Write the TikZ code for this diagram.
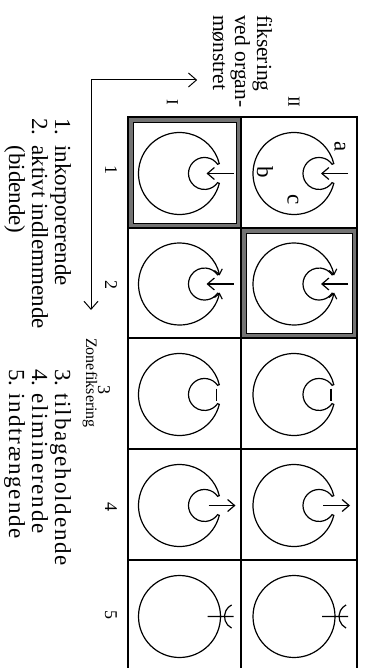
\documentclass[tikz,border=0pt]{standalone}
\usepackage{fontspec}
\usepackage{array}
\setmainfont{Liberation Serif}
\usetikzlibrary{arrows.meta}
\tikzset{
  txt/.style={rotate=-90, inner sep=0pt},
  legend/.style={txt, font=\fontsize{23}{23}\selectfont},
  numlbl/.style={txt, font=\fontsize{18}{18}\selectfont},
  gridline/.style={line width=1.1pt},
  glyph/.style={line width=1.2pt},
  hl/.style={draw=black!55, line width=5pt},
  tip/.style={-{Straight Barb[length=7pt,width=12pt]}},
  axis/.style={line width=1pt, -{Straight Barb[length=8pt,width=14pt]}},
  cusptips/.style={{Straight Barb[length=5pt,width=8pt]}-{Straight Barb[length=5pt,width=8pt]}},
  cellbody/.pic={\draw[glyph] (14:41) arc[start angle=14,end angle=346,radius=41]
      -- (38.1,-9.2) arc[start angle=-35,end angle=-325,radius=16] -- cycle;},
  inward/.pic={\pic {cellbody}; \draw[glyph,tip] (54,0) -- (27,0);},
  engulf/.pic={\draw[glyph,cusptips] (12:41) arc[start angle=12,end angle=348,radius=41];
    \draw[glyph] (39.8,9.9) -- (38.1,9.2) arc[start angle=35,end angle=325,radius=16] -- (39.8,-9.9);
    \draw[glyph,tip] (54,0) -- (27,0);},
  retain/.pic={\pic {cellbody}; \draw[glyph] (37,-6) -- (37,6);},
  expel/.pic={\pic {cellbody}; \draw[glyph,tip] (29,0) -- (56,0);},
  pierce/.pic={\draw[glyph] (0,0) circle[radius=41] (28,0) -- (54,0);
    \draw[glyph] (52.1,11.6) arc[start angle=117,end angle=243,radius=13];}
}
\newcommand{\spaced}{\addfontfeatures{LetterSpace=8}}

\begin{document}
\begin{tikzpicture}[x=1pt,y=-1pt]
  \useasboundingbox (0,0) rectangle (365,668);
  \draw[hl] (130.5,119.5) rectangle (238.5,225.5);
  \draw[hl] (243.5,230.5) rectangle (354.5,335.5);
  \draw[line width=0.6pt] (133,122) rectangle (236,223);
  \draw[line width=0.6pt] (246,233) rectangle (352,333);
  \draw[gridline] (128,668) -- (128,117) -- (357,117) -- (357,668);
  \draw[gridline] (241,117) -- (241,668);
  \foreach \y in {228,338,449,560}
    \draw[gridline] (128,\y) -- (357,\y);
  \foreach \x in {179.5,294} {
    \pic at (\x,173.5) {inward};
    \pic at (\x,284) {engulf};
    \pic at (\x,394.5) {retain};
    \pic at (\x,505.5) {expel};
    \pic at (\x,616.5) {pierce};
  }
  \node[legend] (parta) at (340,147) {a};
  \node[legend] (partb) at (265,172) {b};
  \node[legend] (partc) at (293,200) {c};
  \node[numlbl, font=\fontsize{17}{17}\selectfont] (rowone) at (172.5,102) {I};
  \node[numlbl, font=\fontsize{17}{17}\selectfont] (rowtwo) at (294,102) {II};
  \node[numlbl] (colone) at (111,170) {1};
  \node[numlbl] (coltwo) at (111,285) {2};
  \node[numlbl] (colthree) at (104,390) {3};
  \node[numlbl] (colfour) at (111,507) {4};
  \node[numlbl] (colfive) at (111,615) {5};
  \node[legend, font=\fontsize{21.5}{22}\selectfont, anchor=base west] (orglbl) at (257,15)
    {\begin{tabular}[t]{@{}l@{}}fiksering\\ved organ-\\mønstret\end{tabular}};
  \node[txt, font=\fontsize{16}{16}\selectfont, anchor=base west] (zonelbl) at (86,338) {Zonefiksering};
  \node[legend, anchor=base west] (leftlist) at (55,118)
    {\begin{tabular}[t]{@{}l@{\hspace{10pt}}l@{}}1. & inkorporerende\\2. & aktivt indlemmende\\ & (bidende)\end{tabular}};
  \node[legend, anchor=base west] (rightlist) at (55,369)
    {\begin{tabular}[t]{@{}l@{\hspace{7pt}}>{\spaced}l@{}}3. & tilbageholdende\\4. & eliminerende\\5. & indtrængende\end{tabular}};
  \coordinate (corner) at (91,80);
  \draw[axis, shorten >=9pt] (corner) -- (corner -| orglbl.south);
  \draw[axis, shorten >=28pt] (corner) -- (corner |- zonelbl.west);
\end{tikzpicture}
\end{document}
